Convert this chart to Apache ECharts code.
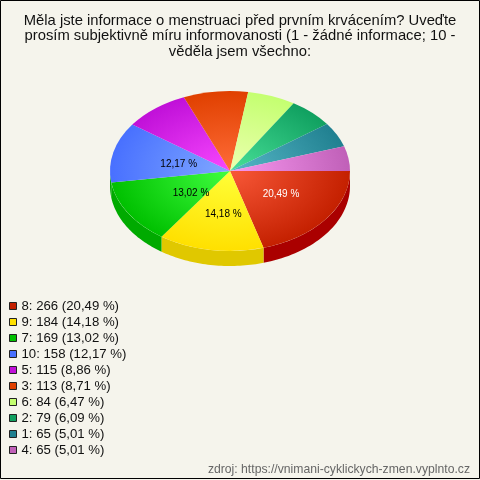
<!DOCTYPE html>
<html><head><meta charset="utf-8">
<style>html,body{margin:0;padding:0;background:#f5f4ec}#c{width:480px;height:480px}</style>
<script src="https://cdn.jsdelivr.net/npm/echarts@6/dist/echarts.min.js"></script>
</head><body><div id="c"></div>
<script>
const titleLines = ["Měla jste informace o menstruaci před prvním krvácením? Uveďte","prosím subjektivně míru informovanosti (1 - žádné informace; 10 -","věděla jsem všechno:"];
const categories = ["8","9","7","10","5","3","6","2","1","4"];
const values = [266,184,169,158,115,113,84,79,65,65];
const percents = ["20,49","14,18","13,02","12,17","8,86","8,71","6,47","6,09","5,01","5,01"];
const edgeColors = ["#c42000","#ffe000","#00c000","#4870ff","#c010d8","#e04000","#c4ff70","#10a060","#208090","#c060b8"];
const centerColors = ["#f85838","#ffff38","#40ff40","#80a8ff","#f848ff","#ff6c38","#ecffb0","#48e098","#58b8c8","#f898f0"];
const sideColors = ["#aa0000","#e0c800","#00aa00","#00aa00","#900090","#a83000","#90c050","#087040","#105868","#904088"];
const labelled = 4;
const labelNudges = [[3,-1],[3,4],[12,1],[7,3]];
const source = "zdroj: https://vnimani-cyklickych-zmen.vyplnto.cz";

const total = values.reduce((a,b)=>a+b,0);
const CX=230, CY=171, RX=120, RY=80, DEPTH=15, K=0.5;
let run=0;
const starts = values.map(v=>{const s=run; run+=v; return s/total*Math.PI*2;});

function renderSlice(i){
  return function(params, api){
    const a0 = starts[i], a1 = a0 + api.value(0)/total*Math.PI*2;
    const children = [];
    const lo = a0, hi = Math.min(a1, Math.PI);
    if (hi > lo) {
      const top=[], bottom=[], n=40;
      for(let j=0;j<=n;j++){
        const t=lo+(hi-lo)*j/n, x=CX+RX*Math.cos(t), y=CY+RY*Math.sin(t);
        top.push([x,y]); bottom.unshift([x,y+DEPTH]);
      }
      children.push({type:'polygon',z2:1,shape:{points:top.concat(bottom)},style:{fill:sideColors[i]}});
    }
    children.push({type:'sector',z2:2,x:CX,y:CY,scaleY:RY/RX,
      shape:{cx:0,cy:0,r0:0,r:RX,startAngle:a0,endAngle:a1,clockwise:true},
      style:{fill:new echarts.graphic.RadialGradient(0,0,RX,[{offset:0,color:centerColors[i]},{offset:1,color:edgeColors[i]}],true)}});
    if(i<labelled){
      const m=(a0+a1)/2;
      children.push({type:'text',z2:3,x:CX+RX*K*Math.cos(m)+labelNudges[i][0],y:CY+RY*K*Math.sin(m)+labelNudges[i][1],
        style:{text:percents[i]+' %',fill:i===0?'#fff':'#000',font:'10px "Liberation Sans"',align:'center',verticalAlign:'middle'}});
    }
    return {type:'group',children};
  };
}

const chart = echarts.init(document.getElementById('c'),null,{renderer:'canvas'});
chart.setOption({
  animation:false,
  backgroundColor:'#f5f4ec',
  title:{text:titleLines.join('\n'),left:240,textAlign:'center',top:10,padding:[3,0,0,0],
    textStyle:{fontFamily:'Liberation Sans',fontSize:14.8,fontWeight:'normal',color:'#111',lineHeight:15.5}},
  legend:{orient:'vertical',left:9,top:298,padding:0,itemWidth:7,itemHeight:7,itemGap:0,icon:'rect',selectedMode:false,
    data:categories.map(c=>c),
    itemStyle:{borderColor:'#222',borderWidth:1},
    textStyle:{fontFamily:'Liberation Sans',fontSize:13.2,color:'#111',lineHeight:16,padding:0},
    formatter:n=>{const i=categories.indexOf(n);return `${n}: ${values[i]} (${percents[i]} %)`;}},
  graphic:[
    {type:'rect',silent:true,z:100,shape:{x:.5,y:.5,width:479,height:478},style:{fill:'none',stroke:'#000',lineWidth:1}},
    {type:'text',silent:true,right:10,top:464,style:{text:source,fill:'#666',font:'12.2px "Liberation Sans"'}}
  ],
  series:categories.map((c,i)=>({
    type:'custom',name:c,coordinateSystem:'none',silent:true,
    itemStyle:{color:edgeColors[i]},
    data:[[values[i]]],
    renderItem:renderSlice(i)
  }))
});
</script></body></html>
